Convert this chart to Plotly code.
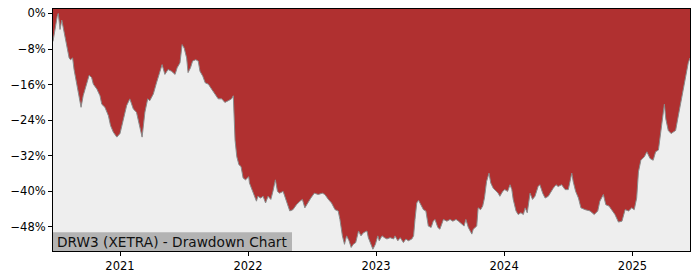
import plotly.graph_objects as go

# Drawdown series (dates, drawdown in %)
dates = [
    "2020-06-24", "2020-06-30", "2020-07-06", "2020-07-09", "2020-07-14", "2020-07-19",
    "2020-07-23", "2020-07-28", "2020-08-04", "2020-08-09", "2020-08-13", "2020-08-19",
    "2020-08-23", "2020-08-30", "2020-09-07", "2020-09-12", "2020-09-18", "2020-09-28",
    "2020-10-05", "2020-10-12", "2020-10-17", "2020-10-27", "2020-11-05", "2020-11-10",
    "2020-11-19", "2020-11-29", "2020-12-05", "2020-12-13", "2020-12-23", "2021-01-01",
    "2021-01-10", "2021-01-20", "2021-01-29", "2021-02-08", "2021-02-17", "2021-02-27",
    "2021-03-05", "2021-03-13", "2021-03-21", "2021-03-27", "2021-04-06", "2021-04-15",
    "2021-04-23", "2021-05-01", "2021-05-09", "2021-05-18", "2021-05-28", "2021-06-07",
    "2021-06-13", "2021-06-21", "2021-06-27", "2021-07-03", "2021-07-10", "2021-07-14",
    "2021-07-21", "2021-07-27", "2021-08-05", "2021-08-12", "2021-08-17", "2021-08-25",
    "2021-09-01", "2021-09-10", "2021-09-19", "2021-09-29", "2021-10-08", "2021-10-18",
    "2021-10-27", "2021-11-06", "2021-11-15", "2021-11-20", "2021-11-25", "2021-11-30",
    "2021-12-06", "2021-12-12", "2021-12-18", "2021-12-25", "2022-01-03", "2022-01-05",
    "2022-01-15", "2022-01-25", "2022-01-29", "2022-02-06", "2022-02-13", "2022-02-20",
    "2022-02-27", "2022-03-07", "2022-03-13", "2022-03-20", "2022-03-26", "2022-04-01",
    "2022-04-11", "2022-04-21", "2022-04-30", "2022-05-09", "2022-05-19", "2022-05-29",
    "2022-06-05", "2022-06-12", "2022-06-20", "2022-06-29", "2022-07-09", "2022-07-20",
    "2022-08-01", "2022-08-08", "2022-08-18", "2022-08-27", "2022-09-06", "2022-09-15",
    "2022-09-20", "2022-09-27", "2022-10-03", "2022-10-09", "2022-10-16", "2022-10-22",
    "2022-10-28", "2022-11-04", "2022-11-12", "2022-11-19", "2022-11-26", "2022-12-06",
    "2022-12-10", "2022-12-18", "2022-12-23", "2022-12-30", "2023-01-06", "2023-01-10",
    "2023-01-18", "2023-01-25", "2023-02-01", "2023-02-10", "2023-02-20", "2023-02-24",
    "2023-03-04", "2023-03-11", "2023-03-20", "2023-03-27", "2023-04-03", "2023-04-13",
    "2023-04-18", "2023-04-22", "2023-04-27", "2023-05-02", "2023-05-09", "2023-05-16",
    "2023-05-23", "2023-05-30", "2023-06-07", "2023-06-13", "2023-06-18", "2023-06-26",
    "2023-07-02", "2023-07-12", "2023-07-22", "2023-07-31", "2023-08-08", "2023-08-17",
    "2023-08-24", "2023-09-02", "2023-09-09", "2023-09-14", "2023-09-21", "2023-10-01",
    "2023-10-05", "2023-10-15", "2023-10-19", "2023-10-26", "2023-11-01", "2023-11-06",
    "2023-11-12", "2023-11-19", "2023-11-24", "2023-12-01", "2023-12-09", "2023-12-15",
    "2023-12-20", "2023-12-28", "2024-01-03", "2024-01-11", "2024-01-18", "2024-01-23",
    "2024-01-27", "2024-02-04", "2024-02-10", "2024-02-18", "2024-02-25", "2024-03-01",
    "2024-03-07", "2024-03-15", "2024-03-22", "2024-03-29", "2024-04-07", "2024-04-12",
    "2024-04-20", "2024-04-27", "2024-05-06", "2024-05-14", "2024-05-20", "2024-05-28",
    "2024-06-03", "2024-06-13", "2024-06-23", "2024-07-02", "2024-07-12", "2024-07-16",
    "2024-07-23", "2024-07-31", "2024-08-07", "2024-08-19", "2024-09-02", "2024-09-14",
    "2024-09-24", "2024-09-30", "2024-10-10", "2024-10-17", "2024-10-26", "2024-11-05",
    "2024-11-12", "2024-11-22", "2024-12-02", "2024-12-11", "2024-12-21", "2024-12-30",
    "2025-01-06", "2025-01-13", "2025-01-18", "2025-01-25", "2025-02-04", "2025-02-11",
    "2025-02-20", "2025-03-01", "2025-03-08", "2025-03-16", "2025-03-23", "2025-03-30",
    "2025-04-02", "2025-04-06", "2025-04-13", "2025-04-21", "2025-04-27", "2025-05-04",
    "2025-05-10", "2025-05-17", "2025-05-23", "2025-05-29", "2025-06-05", "2025-06-09",
    "2025-06-14",
]
drawdown = [
    -6.3, -3.0, -0.7, 0.0, -3.6, -1.5,
    -3.0, -5.2, -8.1, -10.0, -10.4, -10.0,
    -12.6, -15.6, -19.2, -21.1, -18.5, -15.6,
    -13.9, -14.4, -15.9, -17.0, -18.5, -20.4,
    -21.1, -23.0, -25.2, -26.7, -27.8, -27.0,
    -23.7, -20.7, -19.2, -21.5, -22.2, -25.9,
    -27.8, -22.2, -19.2, -19.6, -18.1, -15.6,
    -13.3, -11.5, -13.7, -12.6, -13.0, -13.7,
    -12.2, -11.1, -7.0, -7.8, -10.0, -13.3,
    -12.2, -10.7, -10.4, -10.7, -13.0, -14.1,
    -15.6, -15.9, -17.0, -18.1, -19.2, -19.2,
    -20.0, -19.6, -19.2, -18.5, -28.5, -32.2,
    -34.0, -34.4, -37.0, -37.4, -36.7, -38.1,
    -40.4, -42.2, -41.1, -41.5, -41.1, -42.6,
    -41.1, -41.8, -40.0, -37.4, -40.0, -40.4,
    -40.0, -42.6, -44.4, -44.1, -43.0, -42.2,
    -41.8, -43.7, -42.6, -41.5, -40.4, -40.7,
    -40.4, -40.7, -41.8, -42.6, -44.1, -44.4,
    -46.3, -50.0, -51.9, -50.0, -51.1, -52.6,
    -51.9, -51.5, -48.9, -50.0, -49.3, -48.9,
    -50.4, -51.9, -53.0, -51.9, -50.0, -51.1,
    -50.0, -50.4, -50.7, -50.4, -50.7, -50.0,
    -51.1, -50.4, -51.5, -50.7, -51.1, -50.7,
    -50.0, -46.3, -42.6, -42.0, -43.0, -44.1,
    -44.4, -47.8, -48.1, -46.7, -46.3, -48.1,
    -48.5, -46.3, -46.7, -46.3, -46.7, -46.3,
    -46.7, -47.4, -47.8, -46.3, -48.1, -49.6,
    -48.5, -47.8, -43.7, -44.1, -43.3, -41.5,
    -37.8, -35.9, -38.1, -39.3, -40.0, -40.4,
    -41.1, -40.0, -39.6, -40.0, -38.5, -39.6,
    -41.8, -44.4, -45.2, -44.8, -45.2, -43.7,
    -44.8, -40.4, -41.8, -41.1, -38.9, -38.5,
    -40.4, -41.5, -41.1, -40.0, -39.3, -38.5,
    -38.9, -38.5, -39.6, -39.6, -35.9, -37.8,
    -40.0, -41.5, -43.7, -44.1, -44.4, -45.2,
    -44.4, -42.2, -40.7, -43.0, -43.3, -44.4,
    -45.2, -46.9, -46.7, -44.1, -44.4, -43.7,
    -44.1, -41.5, -35.6, -33.0, -32.2, -31.1,
    -32.6, -33.0, -31.1, -30.7, -26.7, -23.0,
    -20.4, -23.7, -26.3, -27.0, -26.7, -26.3,
    -23.7, -20.7, -18.5, -16.3, -13.3, -11.1,
    -10.0,
]

y_range = [-53.4, 1.0]
y_tick_vals = [0, -8, -16, -24, -32, -40, -48]
y_tick_text = ["0%", "\u22128%", "\u221216%", "\u221224%", "\u221232%", "\u221240%", "\u221248%"]
x_tick_vals = ["2021-01-01", "2022-01-01", "2023-01-01", "2024-01-01", "2025-01-01"]
x_tick_text = ["2021", "2022", "2023", "2024", "2025"]
title_text = "DRW3 (XETRA) - Drawdown Chart"

fig = go.Figure()
# invisible top boundary so the red fill reaches the top of the axes
fig.add_trace(go.Scatter(
    x=[dates[0], dates[-1]], y=[y_range[1], y_range[1]], mode="lines",
    line=dict(width=0, color="rgba(0,0,0,0)"), hoverinfo="skip", showlegend=False,
))
fig.add_trace(go.Scatter(
    x=dates, y=drawdown, mode="lines", fill="tonexty",
    fillcolor="#b03030", line=dict(color="#8a8a8a", width=1),
    hoverinfo="skip", showlegend=False,
))

axis_font = dict(family="DejaVu Sans", size=11.5, color="#000000")
fig.update_layout(
    width=700, height=280,
    margin=dict(l=53, r=10, t=7, b=28),
    paper_bgcolor="white", plot_bgcolor="#eeeeee",
    xaxis=dict(
        range=[dates[0], dates[-1]], tickvals=x_tick_vals, ticktext=x_tick_text,
        showgrid=False, zeroline=False, showline=True, mirror=True,
        linecolor="black", linewidth=1, ticks="outside", ticklen=4,
        tickcolor="black", tickfont=axis_font,
    ),
    yaxis=dict(
        range=y_range, tickvals=y_tick_vals, ticktext=y_tick_text,
        showgrid=False, zeroline=False, showline=True, mirror=True,
        linecolor="black", linewidth=1, ticks="outside", ticklen=4,
        tickcolor="black", tickfont=axis_font,
    ),
    shapes=[dict(
        type="rect", xref="paper", yref="paper", x0=0, x1=0.3752, y0=0, y1=0.0776,
        fillcolor="#b3b3b3", line=dict(width=0), layer="above",
    )],
    annotations=[dict(
        text=title_text, xref="paper", yref="paper", x=0, y=0.0388,
        xanchor="left", yanchor="middle", xshift=2, showarrow=False,
        font=dict(family="DejaVu Sans", size=13.7, color="#111111"),
    )],
)

fig.write_html("out.html")
